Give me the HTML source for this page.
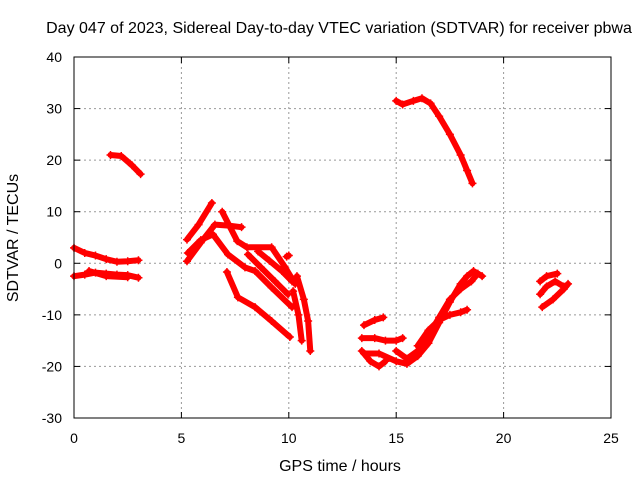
<!DOCTYPE html>
<html><head><meta charset="utf-8"><style>
body{margin:0;background:#fff}
svg{display:block;font-family:"Liberation Sans",sans-serif;font-size:14px}
.big{font-size:16px}
</style></head><body>
<svg id="chart" width="640" height="480">
<text class="big" x="339" y="33" text-anchor="middle">Day 047 of 2023, Sidereal Day-to-day VTEC variation (SDTVAR) for receiver pbwa</text>
<text class="big" x="340" y="471" text-anchor="middle">GPS time / hours</text>
<text class="big" transform="translate(18,238) rotate(-90)" text-anchor="middle">SDTVAR / TECUs</text>
<g id="grid"></g><g id="ticks"></g><g id="series"></g>
<rect x="74" y="57" width="537" height="361" fill="none" stroke="#000"/>
</svg>
<script>
const xTicks=[0,5,10,15,20,25];
const yTicks=[-30,-20,-10,0,10,20,30,40];
const track1=[[1.7,21],[2.2,20.8],[2.7,19],[3.1,17.3]];
const track2=[[0,3],[0.5,2],[1,1.5],[1.5,0.8],[2,0.3],[2.5,0.4],[3,0.6]];
const track3=[[0,-2.5],[0.5,-2.2],[1,-1.8],[1.5,-2],[2,-2.2],[2.5,-2.3],[3,-2.8]];
const track4=[[0.7,-1.5],[1.5,-2.5],[2.5,-2.7]];
const track5=[[5.26,4.6],[5.8,7.5],[6.42,11.7]];
const track6=[[5.26,0.4],[5.9,4],[6.56,7.5],[7.2,7.3],[7.8,7]];
const track7=[[6.9,10],[7.6,4.3],[8.05,3.1],[9.2,3.1],[9.8,-0.6],[10.3,-4]];
const track8=[[5.3,2],[5.9,4.5],[6.47,5.6],[7.17,1.7],[7.96,-0.8],[8.43,-1.5],[9.2,-4.7],[10.15,-8.5]];
const track9=[[8.1,1.7],[8.7,-0.8],[9.36,-3.5],[9.96,-6]];
const track10=[[8.57,2.3],[9.1,0.5],[9.68,-1.5],[10.15,-3.5]];
const track11=[[7.12,-1.7],[7.63,-6.6],[8.43,-8.5],[9.2,-11.2],[10.05,-14.3]];
const track12=[[10.38,-2.5],[10.7,-7],[10.9,-11.2],[11,-17]];
const track13=[[10.2,-5.4],[10.45,-10],[10.6,-15]];
const track14=[[9.9,1.3],[10.0,1.5]];
const track15=[[15,31.5],[15.3,30.8],[15.8,31.5],[16.2,32],[16.6,31],[17,28.5],[17.5,25],[18,21],[18.3,18],[18.55,15.5]];
const track16=[[13.5,-12],[14,-11],[14.4,-10.5]];
const track17=[[13.4,-14.5],[14,-14.5],[14.5,-15],[15,-15],[15.3,-14.5]];
const track18=[[13.4,-17],[13.8,-19],[14.2,-20],[14.5,-19]];
const track19=[[13.5,-17.5],[14.2,-17.5],[15,-19],[15.5,-19.5],[16,-18],[16.5,-15.5],[17,-11.5],[17.5,-7.5],[18,-4],[18.3,-2.5],[18.6,-1.5],[19,-2.5]];
const track20=[[15,-17],[15.5,-18.5],[16,-17],[16.5,-14],[17,-10.5],[17.5,-7],[18,-5],[18.5,-3.5],[18.8,-2]];
const track21=[[16,-16],[16.5,-13],[17,-11],[17.5,-10],[18,-9.5],[18.3,-9]];
const track22=[[21.7,-6],[22,-4.5],[22.4,-3.5],[22.8,-4.5]];
const track23=[[21.8,-8.5],[22.3,-7],[22.8,-5],[23,-4]];
const track24=[[21.7,-3.5],[22,-2.5],[22.5,-2]];
const tracks=[track1,track2,track3,track4,track5,track6,track7,track8,track9,track10,track11,track12,track13,track14,track15,track16,track17,track18,track19,track20,track21,track22,track23,track24];
const X=v=>74+v*(537/25), Y=v=>418-(v+30)*(361/70);
const NS="http://www.w3.org/2000/svg";
const grid=document.getElementById('grid'),ticks=document.getElementById('ticks'),ser=document.getElementById('series');
function mk(tag,attrs,parent){const e=document.createElementNS(NS,tag);for(const k in attrs)e.setAttribute(k,attrs[k]);parent.appendChild(e);return e;}
xTicks.forEach(t=>{
 if(t>0&&t<25){const g=mk('line',{x1:X(t),x2:X(t),y1:57,y2:418,stroke:'#999','stroke-dasharray':'2,3'},grid);
 
 }
 mk('line',{x1:X(t),x2:X(t),y1:418,y2:412,stroke:'#000'},ticks);
 mk('line',{x1:X(t),x2:X(t),y1:57,y2:63,stroke:'#000'},ticks);
 const l=mk('text',{x:X(t),y:443,'text-anchor':'middle'},ticks);l.textContent=t;
 
 
});
yTicks.forEach(t=>{
 if(t>-30&&t<40){const g=mk('line',{x1:74,x2:611,y1:Y(t),y2:Y(t),stroke:'#999','stroke-dasharray':'2,3'},grid);
 
 }
 mk('line',{x1:74,x2:80,y1:Y(t),y2:Y(t),stroke:'#000'},ticks);
 mk('line',{x1:611,x2:605,y1:Y(t),y2:Y(t),stroke:'#000'},ticks);
 const l=mk('text',{x:62,y:Y(t)+5,'text-anchor':'end'},ticks);l.textContent=t;
 
 
});
tracks.forEach(tr=>{
 const g=mk('g',{},ser);
 
 
 mk('polyline',{points:tr.map(p=>X(p[0])+','+Y(p[1])).join(' '),fill:'none',stroke:'#f00','stroke-width':6,'stroke-linejoin':'round','stroke-linecap':'round'},g);
 tr.forEach(p=>{const x=X(p[0]),y=Y(p[1]);
  mk('path',{d:`M${x-4},${y}H${x+4}M${x},${y-4}V${y+4}`,stroke:'#f00','stroke-width':1.5},g);});
});
</script>
</body></html>
